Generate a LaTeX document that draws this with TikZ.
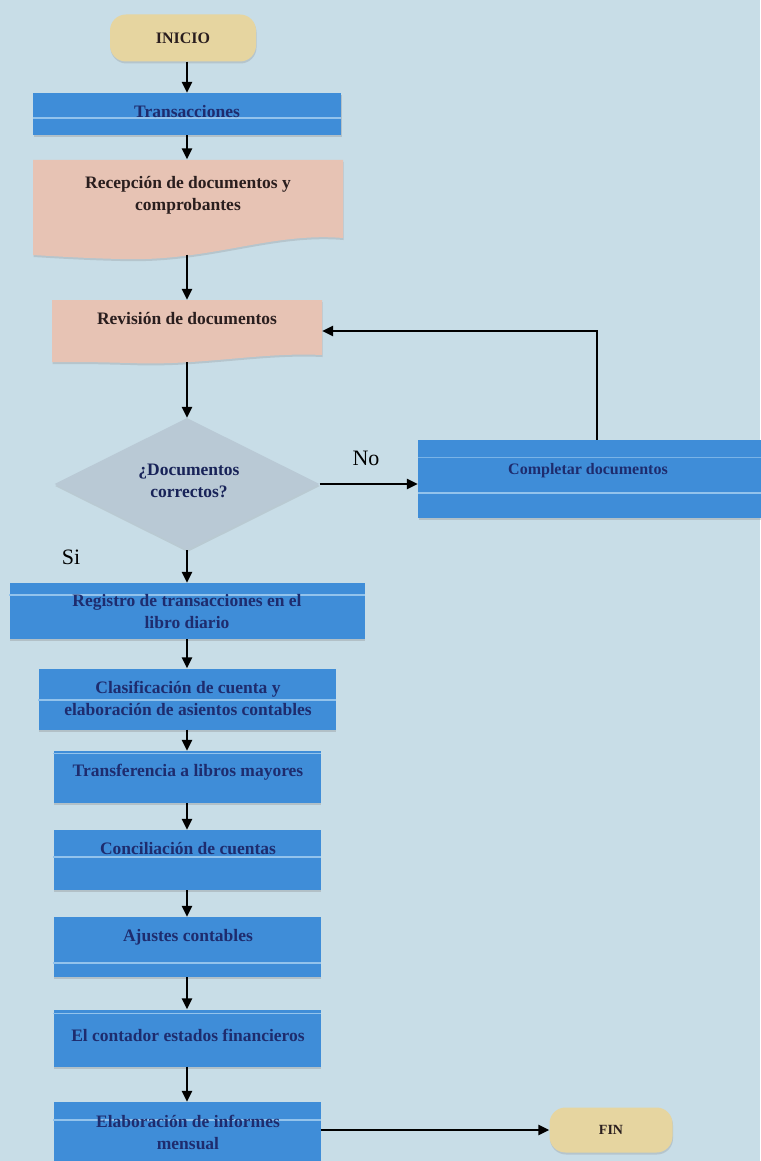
\documentclass[tikz,border=0pt]{standalone}
\usepackage{fontspec}
\setmainfont{Liberation Serif}
\usetikzlibrary{shapes.geometric,arrows.meta,shadows}

\definecolor{paper}{HTML}{C8DDE7}
\definecolor{stepblue}{HTML}{3F8DD8}
\definecolor{bandblue}{HTML}{93C3EC}
\definecolor{navy}{HTML}{1E2C6E}
\definecolor{docpink}{HTML}{E7C3B4}
\definecolor{pilltan}{HTML}{E6D5A0}
\definecolor{decgray}{HTML}{B9C9D5}
\definecolor{ink}{HTML}{2A1E1E}

\begin{document}
\begin{tikzpicture}[x=1pt,y=-1pt,
  txt/.style={font=\fontsize{17.5}{22}\selectfont\bfseries, align=center, inner sep=0pt},
  stepbox/.style={fill=stepblue, draw=none, inner sep=0pt,
    drop shadow={shadow xshift=0.5pt, shadow yshift=-2pt, opacity=0.3}},
  steptext/.style={txt, text=navy},
  doctext/.style={txt, text=ink},
  pill/.style={fill=pilltan, rounded corners=16pt, inner sep=0pt,
    drop shadow={shadow xshift=0.5pt, shadow yshift=-2pt, opacity=0.25}},
  band/.style={bandblue, line width=1.6pt},
  arr/.style={-{Triangle[length=11pt,width=10pt]}, line width=2.8pt, black},
  lbl/.style={font=\fontsize{22}{26}\selectfont, text=black}
]
% background and page size
\fill[paper] (0,0) rectangle (760,1161);
\useasboundingbox (0,0) rectangle (760,1161);

% start
\node[pill, minimum width=146pt, minimum height=47pt] (inicio) at (183,38) {};
\node[doctext, font=\fontsize{16}{20}\selectfont\bfseries] (inicioT) at (183,38) {INICIO};

% Transacciones
\node[stepbox, minimum width=308pt, minimum height=42pt] (trans) at (187,114) {};
\draw[band] (trans.west |- 0,118) -- (trans.east |- 0,118);
\node[steptext] (transT) at (187,112) {Transacciones};

% Recepcion (document shape)
\fill[docpink, drop shadow={shadow xshift=0.5pt, shadow yshift=-2pt, opacity=0.25}]
  (33,160) -- (343,160) -- (343,238)
  .. controls (270,232) and (210,262) .. (120,259)
  .. controls (80,258) and (50,256) .. (33,255) -- cycle;
\node[minimum width=310pt, minimum height=95pt, inner sep=0pt] (recep) at (187,207) {};
\node[doctext] (recepT) at (188,195) {Recepción de documentos y\\comprobantes};

% Revision (document shape)
\fill[docpink, drop shadow={shadow xshift=0.5pt, shadow yshift=-2pt, opacity=0.25}]
  (52,300) -- (322,300) -- (322,355)
  .. controls (260,352) and (200,366) .. (130,363)
  .. controls (90,362) .. (52,362) -- cycle;
\node[minimum width=270pt, minimum height=62pt, inner sep=0pt] (revis) at (187,331) {};
\node[doctext] (revisT) at (187,319) {Revisión de documentos};

% decision
\node[diamond, fill=decgray, minimum width=265pt, minimum height=132pt, inner sep=0pt,
  drop shadow={shadow xshift=0.5pt, shadow yshift=-2pt, opacity=0.2}] (dec) at (187,484) {};
\node[steptext, text=navy!80!black] (decT) at (189,481) {¿Documentos\\correctos?};

% Completar documentos
\node[stepbox, minimum width=352pt, minimum height=78pt] (comp) at (594,479) {};
\draw[band, line width=1pt, bandblue!70!stepblue] (comp.west |- 0,457) -- (comp.east |- 0,457);
\draw[band] (comp.west |- 0,493) -- (comp.east |- 0,493);
\node[steptext, font=\fontsize{16}{20}\selectfont\bfseries] (compT) at (588,471) {Completar documentos};

\node[lbl] (noL) at (366,458) {No};
\node[lbl] (siL) at (71,557) {Si};

% Registro
\node[stepbox, minimum width=355pt, minimum height=56pt] (reg) at (187,611) {};
\draw[band] (reg.west |- 0,595) -- (reg.east |- 0,595);
\node[steptext] (regT) at (187,612) {Registro de transacciones en el\\libro diario};

% Clasificacion
\node[stepbox, minimum width=297pt, minimum height=61pt] (clas) at (187,699) {};
\draw[band] (clas.west |- 0,700) -- (clas.east |- 0,700);
\node[steptext] (clasT) at (188,698) {Clasificación de cuenta y\\elaboración de asientos contables};

% Transferencia
\node[stepbox, minimum width=267pt, minimum height=52pt] (transf) at (187,777) {};
\draw[band, line width=1pt] (transf.west |- 0,753) -- (transf.east |- 0,753);
\node[steptext] (transfT) at (188,772) {Transferencia a libros mayores};

% Conciliacion
\node[stepbox, minimum width=267pt, minimum height=60pt] (conc) at (187,860) {};
\draw[band] (conc.west |- 0,857) -- (conc.east |- 0,857);
\node[steptext] (concT) at (188,849) {Conciliación de cuentas};

% Ajustes
\node[stepbox, minimum width=267pt, minimum height=60pt] (ajus) at (187,947) {};
\draw[band] (ajus.west |- 0,963) -- (ajus.east |- 0,963);
\node[steptext] (ajusT) at (188,937) {Ajustes contables};

% Estados financieros
\node[stepbox, minimum width=267pt, minimum height=57pt] (est) at (187,1038) {};
\draw[band, line width=1pt] (est.west |- 0,1013) -- (est.east |- 0,1013);
\node[steptext] (estT) at (188,1035) {El contador estados financieros};

% Informes
\node[stepbox, minimum width=267pt, minimum height=60pt] (inf) at (187,1132) {};
\draw[band] (inf.west |- 0,1120) -- (inf.east |- 0,1120);
\node[steptext] (infT) at (188,1132) {Elaboración de informes\\mensual};

% end
\node[pill, minimum width=123pt, minimum height=45pt] (fin) at (611,1130) {};
\node[doctext, font=\fontsize{14}{18}\selectfont\bfseries] (finT) at (611,1130) {FIN};

% connectors
\draw[arr] (inicio.south -| trans.north) -- (trans.north);
\draw[arr] (trans.south) -- (trans.south |- recep.north);
\draw[arr] (recep.south) -- (revis.north);
\draw[arr] (revis.south) -- (dec.north);
\draw[arr] (dec.south) -- (reg.north);
\draw[arr] (dec.east) -- (dec.east -| comp.west);
\coordinate (loopx) at (597,0);
\draw[arr] (comp.north -| loopx) |- (revis.east);
\draw[arr] (reg.south) -- (clas.north);
\draw[arr] (clas.south) -- (transf.north);
\draw[arr] (transf.south) -- (conc.north);
\draw[arr] (conc.south) -- (ajus.north);
\draw[arr] (ajus.south) -- (est.north);
\draw[arr] (est.south) -- (inf.north);
\draw[arr] (inf.east |- fin.west) -- (fin.west);
\end{tikzpicture}
\end{document}
